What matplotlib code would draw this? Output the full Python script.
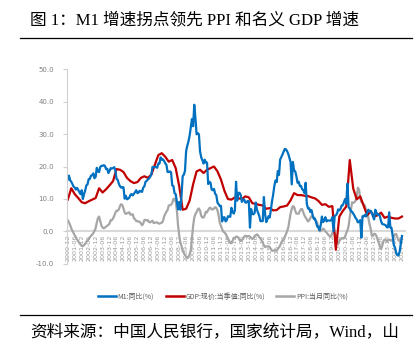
import matplotlib.pyplot as plt
from matplotlib.lines import Line2D
import numpy as np

plt.rcParams['font.family'] = ['Noto Sans CJK SC', 'DejaVu Sans']

# monthly M1 yoy, 2000-12 .. 2024-12
m1 = [16.0,
      17.2, 15.8, 15.3, 14.6, 13.8, 13.5, 12.9, 13.4, 12.8, 12.1, 11.5, 12.7,
      10.0, 11.5, 12.6, 14.2, 14.5, 16.1, 16.2, 17.2, 17.3, 17.9, 16.4, 16.8,
      19.6, 18.5, 18.3, 19.9, 20.2, 20.2, 20.4, 20.2, 19.2, 19.3, 18.0, 18.7,
      19.5, 19.4, 19.5, 19.8, 18.8, 16.2, 15.9, 14.7, 13.9, 13.5, 13.6, 13.6,
      10.1, 11.0, 9.9, 10.1, 10.4, 11.3, 11.5, 11.1, 11.6, 12.1, 12.7, 11.8,
      12.0, 12.5, 12.3, 12.2, 13.5, 13.9, 15.3, 15.6, 16.0, 16.3, 16.8, 17.5,
      19.9, 19.8, 19.8, 19.9, 19.6, 20.9, 20.9, 22.8, 22.1, 22.2, 21.7, 21.0,
      20.5, 18.3, 18.3, 18.5, 18.2, 14.2, 14.0, 11.8, 11.5, 9.1, 6.8, 9.1,
      6.7, 10.9, 17.0, 17.5, 18.7, 24.8, 26.4, 27.7, 29.5, 32.0, 34.6, 32.4,
      39.0, 34.9, 29.9, 30.3, 29.9, 24.6, 22.8, 21.9, 20.9, 22.1, 21.2, 21.2,
      14.6, 15.3, 15.0, 12.9, 12.7, 13.1, 11.6, 11.2, 8.9, 8.4, 7.8, 7.9,
      3.1, 4.3, 4.4, 3.1, 3.5, 4.7, 4.6, 4.5, 7.3, 6.1, 5.5, 6.5,
      15.3, 9.5, 11.9, 11.9, 11.3, 9.1, 9.7, 9.9, 8.9, 8.9, 9.4, 9.3,
      1.2, 6.9, 5.4, 5.3, 5.7, 8.9, 6.7, 5.7, 4.8, 3.2, 3.2, 3.2,
      10.6, 5.6, 2.9, 3.7, 4.7, 4.3, 6.6, 9.3, 11.4, 14.0, 15.7, 15.2,
      18.6, 17.4, 22.1, 22.9, 23.7, 24.6, 25.4, 25.3, 24.7, 23.9, 22.7, 21.4,
      14.5, 21.4, 18.8, 18.5, 17.0, 15.0, 15.3, 14.0, 14.0, 13.0, 12.7, 11.8,
      15.0, 8.5, 7.1, 7.2, 6.0, 6.6, 5.1, 3.9, 4.0, 2.7, 1.5, 1.5,
      0.4, 2.0, 4.6, 2.9, 3.4, 4.4, 3.1, 3.4, 3.4, 3.3, 3.5, 4.4,
      0.0, 4.8, 5.0, 5.5, 6.8, 6.5, 6.9, 8.0, 8.1, 9.1, 10.0, 8.6,
      14.7, 7.4, 7.1, 6.2, 6.1, 5.5, 4.9, 4.2, 3.7, 2.8, 3.0, 3.5,
      -1.9, 4.7, 4.7, 5.1, 4.6, 5.8, 6.7, 6.1, 6.4, 5.8, 4.6, 3.7,
      6.7, 5.8, 5.1, 5.3, 4.7, 3.1, 2.3, 2.2, 2.1, 1.9, 1.3, 1.3,
      5.9, 1.2, 1.1, -1.4, -4.2, -5.0, -6.6, -7.3, -7.4, -6.1, -3.7, -1.4]

# monthly PPI yoy, 2000-12 .. 2024-12
ppi = [3.5,
       2.8, 2.0, 1.0, 0.2, -0.5, -1.2, -1.8, -2.4, -3.0, -3.5, -4.0, -4.4,
       -4.5, -4.2, -3.8, -3.2, -2.8, -2.4, -1.8, -1.3, -1.0, -0.5, 0.2, 1.0,
       2.8, 4.1, 4.6, 3.2, 1.8, 1.2, 1.0, 1.2, 1.5, 1.8, 2.0, 2.5,
       3.5, 3.5, 4.0, 4.8, 5.8, 6.4, 6.4, 6.8, 7.9, 8.4, 8.1, 7.1,
       5.8, 5.4, 5.6, 5.8, 5.9, 5.2, 5.2, 5.3, 4.0, 3.8, 3.2, 3.2,
       3.0, 3.0, 2.5, 1.9, 2.4, 3.5, 3.6, 3.4, 3.5, 2.9, 2.8, 3.1,
       3.3, 2.6, 2.7, 2.8, 2.8, 2.5, 2.4, 2.6, 2.7, 3.2, 4.6, 5.4,
       6.1, 6.6, 8.0, 8.1, 8.2, 8.8, 10.0, 10.1, 9.1, 6.6, 2.0, -1.1,
       -3.3, -4.5, -6.0, -6.6, -7.2, -7.8, -8.2, -7.9, -7.0, -5.8, -2.1, 1.7,
       4.3, 5.4, 5.9, 6.8, 7.1, 6.4, 4.8, 4.3, 4.3, 5.0, 6.1, 5.9,
       6.6, 7.2, 7.3, 6.8, 6.8, 7.1, 7.5, 7.3, 6.5, 5.0, 2.7, 1.7,
       0.7, 0.0, -0.3, -0.7, -1.4, -2.1, -2.9, -3.5, -3.6, -2.8, -2.2, -1.9,
       -1.6, -1.6, -1.9, -2.6, -2.9, -2.7, -2.3, -1.6, -1.3, -1.5, -1.4, -1.4,
       -1.6, -2.0, -2.3, -2.0, -1.4, -1.1, -0.9, -1.2, -1.8, -2.2, -2.7, -3.3,
       -4.3, -4.8, -4.6, -4.6, -4.6, -4.8, -5.4, -5.9, -5.9, -5.9, -5.9, -5.9,
       -5.3, -4.9, -4.3, -3.4, -2.8, -2.6, -1.7, -0.8, 0.1, 1.2, 3.3, 5.5,
       6.9, 7.8, 7.6, 6.4, 5.5, 5.5, 5.5, 6.3, 6.9, 6.9, 5.8, 4.9,
       4.3, 3.7, 3.1, 3.4, 4.1, 4.7, 4.6, 4.1, 3.6, 3.3, 2.7, 0.9,
       0.1, 0.1, 0.4, 0.9, 0.6, 0.0, -0.3, -0.8, -1.2, -1.6, -1.4, -0.5,
       0.1, -0.4, -1.5, -3.1, -3.7, -3.0, -2.4, -2.0, -2.1, -2.1, -1.5, -0.4,
       0.3, 1.7, 4.4, 6.8, 9.0, 8.8, 9.0, 9.5, 10.7, 13.5, 12.9, 10.3,
       9.1, 8.8, 8.3, 8.0, 6.4, 6.1, 4.2, 2.3, 0.9, -1.3, -1.3, -0.7,
       -0.8, -1.4, -2.5, -3.6, -4.6, -5.4, -4.4, -3.0, -2.5, -2.6, -3.0, -2.7,
       -2.5, -2.7, -2.8, -2.5, -1.4, -0.8, -0.8, -1.8, -2.8, -2.9, -2.5, -2.3]

# quarterly nominal GDP yoy, 2000Q4 .. 2024Q4
gdp = [9.8,
       13.3, 11.5, 10.3, 9.0,
       8.7, 9.3, 9.8, 10.3,
       13.3, 12.0, 13.0, 14.2,
       15.5, 19.2, 19.0, 18.3,
       16.5, 15.5, 14.9, 15.2,
       16.5, 17.0, 16.5, 17.5,
       20.5, 23.5, 24.1, 23.0,
       21.5, 22.0, 19.5, 14.0,
       6.7, 7.0, 9.5, 14.5,
       18.5, 19.0, 18.0, 19.0,
       19.5, 20.0, 18.5, 16.0,
       12.5, 10.0, 9.8, 10.5,
       10.2, 10.0, 10.8, 10.5,
       8.7, 8.5, 8.2, 8.0,
       7.0, 7.2, 6.5, 6.6,
       7.5, 7.7, 8.0, 9.6,
       11.8, 11.2, 11.2, 11.0,
       10.9, 10.5, 10.2, 9.4,
       8.2, 8.4, 7.6, 7.8,
       -5.6, 4.6, 6.3, 7.7,
       22.0, 13.2, 9.9, 10.8,
       7.9, 5.0, 6.2, 4.6,
       5.0, 5.8, 4.2, 4.6,
       4.2, 4.0, 4.0, 4.6]

# tick labels every 6 months
labels = []
for i in range(0, 289, 6):
    y = 2000 + (11 + i) // 12
    mo = (11 + i) % 12 + 1
    labels.append('%d-%02d' % (y, mo))

xm = np.arange(len(m1))
xq = np.arange(len(gdp)) * 3

fig = plt.figure(figsize=(4.19, 3.48), dpi=100)
ax = fig.add_axes([0.159, 0.2414, 0.8087, 0.5603])

blue = '#0070C0'
red = '#C00000'
grey = '#A6A6A6'

ax.plot(xm, ppi, color=grey, lw=1.6)
ax.plot(xq, gdp, color=red, lw=1.6)
ax.plot(xm, m1, color=blue, lw=1.6)

for s in ['top', 'right']:
    ax.spines[s].set_visible(False)
ax.spines['left'].set_color('#D0D0D0')
ax.spines['left'].set_linewidth(0.8)
ax.spines['bottom'].set_position(('data', 0))
ax.spines['bottom'].set_color('#D9D9D9')
ax.spines['bottom'].set_linewidth(1.5)
ax.spines['bottom'].set_zorder(0)

ax.set_xlim(-1, 291)
ax.set_ylim(-10, 50)
ax.set_yticks([-10, 0, 10, 20, 30, 40, 50])
ax.set_yticklabels(['%.1f' % v for v in [-10, 0, 10, 20, 30, 40, 50]],
                   fontsize=5, color='#7F7F7F', family='DejaVu Sans')
ax.set_xticks(np.arange(0, 289, 6))
ax.set_xticklabels(labels, rotation=90, fontsize=4.6, color='#999999', family='DejaVu Sans')
ax.tick_params(axis='x', length=0, pad=2)
ax.tick_params(axis='y', length=3, color='#D0D0D0', width=0.8, pad=6)

handles = [Line2D([], [], color=blue, lw=1.8),
           Line2D([], [], color=red, lw=1.8),
           Line2D([], [], color=grey, lw=1.8)]
names = ['M1:同比(%)', 'GDP:现价:当季值:同比(%)', 'PPI:当月同比(%)']
leg = fig.legend(handles, names, loc='center', bbox_to_anchor=(0.532, 0.147),
                 ncol=3, frameon=False, fontsize=5, handlelength=2.6,
                 handletextpad=0.2, columnspacing=1.7)
for t in leg.get_texts():
    t.set_color('#595959')

title_font = ['Liberation Serif', 'Noto Sans CJK SC']
fig.text(30 / 419, 1 - 20 / 348, '图 1：M1 增速拐点领先 PPI 和名义 GDP 增速',
         fontsize=12, family=title_font, va='center', ha='left')
fig.add_artist(Line2D([20 / 419, 412 / 419], [1 - 38 / 348, 1 - 38 / 348],
                      color='black', lw=0.9))
fig.add_artist(Line2D([20 / 419, 412 / 419], [1 - 315 / 348, 1 - 315 / 348],
                      color='black', lw=0.9))
fig.text(30 / 419, 1 - 333 / 348, '资料来源：中国人民银行，国家统计局，Wind，山',
         fontsize=12, family=title_font, va='center', ha='left')

fig.savefig('out.png', dpi=100)
